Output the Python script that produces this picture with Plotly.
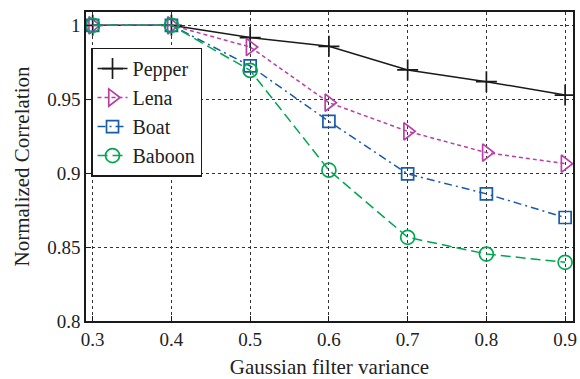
import plotly.graph_objects as go

variance = [0.3, 0.4, 0.5, 0.6, 0.7, 0.8, 0.9]
pepper = [1.0, 1.0, 0.9917, 0.9858, 0.9698, 0.9619, 0.9528]
lena = [1.0, 1.0, 0.9853, 0.9477, 0.9283, 0.9139, 0.9064]
boat = [1.0, 1.0, 0.9725, 0.9350, 0.8995, 0.8860, 0.8700]
baboon = [1.0, 1.0, 0.9695, 0.9020, 0.8566, 0.8453, 0.8397]

x_ticks = [0.3, 0.4, 0.5, 0.6, 0.7, 0.8, 0.9]
x_ticklabels = ["0.3", "0.4", "0.5", "0.6", "0.7", "0.8", "0.9"]
y_ticks = [0.8, 0.85, 0.9, 0.95, 1.0]
y_ticklabels = ["0.8", "0.85", "0.9", "0.95", "1"]

FONT = "Liberation Serif"

fig = go.Figure()
series = [
    ("Pepper", pepper, "#1a1a1a", "solid", "cross-thin-open", 15),
    ("Lena", lena, "#b83fa8", "4px,3px", "triangle-right-open", 15),
    ("Boat", boat, "#1a5aab", "8px,4px,2px,4px", "square-open", 12),
    ("Baboon", baboon, "#00a650", "10px,5px", "circle-open", 14),
]
for name, ys, col, dash, sym, size in series:
    fig.add_trace(go.Scatter(
        x=variance, y=ys, name=name, mode="lines+markers",
        line=dict(color=col, width=1.5, dash=dash),
        marker=dict(symbol=sym, size=size, color=col, line=dict(color=col, width=1.7)),
    ))

axis_common = dict(
    showline=True, linecolor="#1a1a1a", linewidth=1.5, mirror=True,
    showgrid=True, gridcolor="#333333", griddash="3px,3px", gridwidth=1,
    ticks="inside", ticklen=5, tickcolor="#1a1a1a",
    tickfont=dict(family=FONT, size=19, color="#222"),
    zeroline=False, automargin=False,
)
fig.update_xaxes(range=[0.2915, 0.910], tickvals=x_ticks, ticktext=x_ticklabels,
                 title=dict(text="Gaussian filter variance", font=dict(family=FONT, size=21, color="#222"), standoff=12),
                 **axis_common)
fig.update_yaxes(range=[0.8, 1.009], tickvals=y_ticks, ticktext=y_ticklabels,
                 title=dict(text="Normalized Correlation", font=dict(family=FONT, size=21, color="#222"), standoff=12),
                 **axis_common)

fig.update_layout(
    width=580, height=379,
    margin=dict(l=86, r=7, t=12, b=58),
    plot_bgcolor="white", paper_bgcolor="white",
    font=dict(family=FONT, color="#222"),
    legend=dict(x=0.0103, y=0.885, xanchor="left", yanchor="top",
                bgcolor="white", bordercolor="#1a1a1a", borderwidth=1.5,
                font=dict(family=FONT, size=20, color="#222"),
                itemwidth=30, tracegroupgap=0),
    showlegend=True,
)

fig.write_html("out.html", config={"displayModeBar": False},
               post_script="document.body.style.margin='0';")
